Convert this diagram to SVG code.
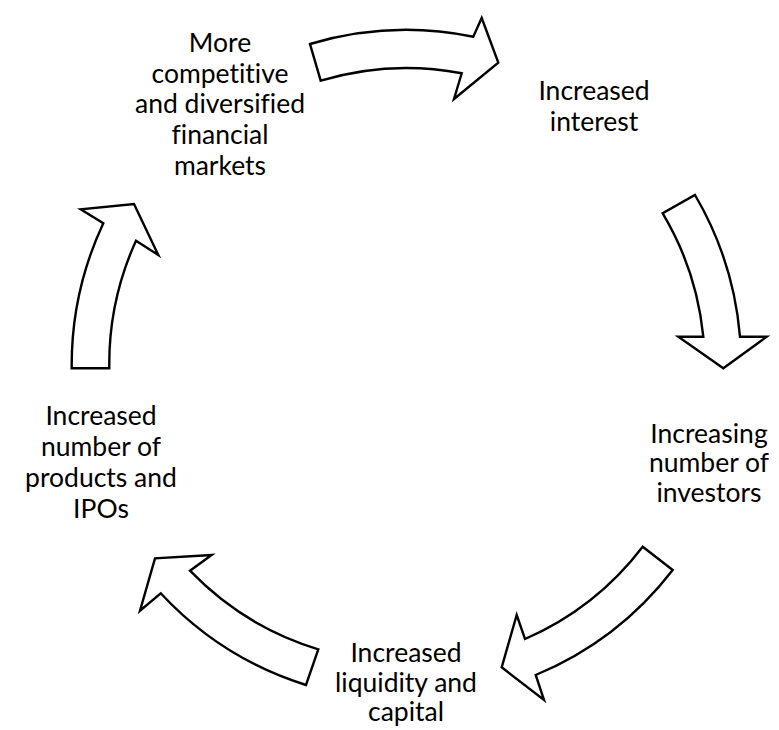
<svg xmlns="http://www.w3.org/2000/svg" width="779" height="730" viewBox="0 0 779 730">
  <style>
    .arrow { fill: #ffffff; stroke: #000000; stroke-width: 2.4; stroke-linejoin: miter; }
    .label { font-family: Lato, "Liberation Sans", sans-serif; font-size: 26.5px; fill: #000000; text-anchor: middle; font-variant-ligatures: none; font-feature-settings: "liga" 0, "dlig" 0; }
  </style>
  <rect width="779" height="730" fill="#ffffff"/>

  <!-- curved block arrows, outer arc r=335, inner arc r=298 -->
  <g id="connectors">
    <path id="arrow-1" class="arrow" d="M310,44 A335,335 0 0 1 473.3,36.7 L481.7,18 L498.3,62.7 L454,99 L461.7,73.3 A298,298 0 0 0 320.7,80.7 Z"/>
    <path id="arrow-2" class="arrow" d="M695,195 A335,335 0 0 1 740,336.7 L766.7,336.7 L723.3,368.3 L678.3,336.7 L703.3,336.7 A298,298 0 0 0 662.7,213.3 Z"/>
    <path id="arrow-3" class="arrow" d="M672.7,570 A335,335 0 0 1 535.7,675 L544,700 L501.7,667.3 L516.7,615 L525,639 A298,298 0 0 0 642.7,546.7 Z"/>
    <path id="arrow-4" class="arrow" d="M306,685 A335,335 0 0 1 160.7,593.3 L140,610.7 L155,558.3 L211.7,555 L190,570.7 A298,298 0 0 0 318.3,649.3 Z"/>
    <path id="arrow-5" class="arrow" d="M71.7,368.3 A335,335 0 0 1 103.3,223.3 L80.7,209.3 L134,204 L158.3,255 L136,240.7 A298,298 0 0 0 109.3,368.3 Z"/>
  </g>

  <g id="node-markets">
    <text class="label" x="220" y="51.7">More</text>
    <text class="label" x="220" y="82.5">competitive</text>
    <text class="label" x="220" y="113.3">and diversified</text>
    <text class="label" x="220" y="144.1">financial</text>
    <text class="label" x="220" y="175">markets</text>
  </g>

  <g id="node-interest">
    <text class="label" x="594" y="100">Increased</text>
    <text class="label" x="594" y="131">interest</text>
  </g>

  <g id="node-investors">
    <text class="label" x="709" y="443">Increasing</text>
    <text class="label" x="709" y="472">number of</text>
    <text class="label" x="709" y="502">investors</text>
  </g>

  <g id="node-liquidity">
    <text class="label" x="406" y="661.5">Increased</text>
    <text class="label" x="406" y="691.5">liquidity and</text>
    <text class="label" x="406" y="721">capital</text>
  </g>

  <g id="node-products">
    <text class="label" x="101" y="425">Increased</text>
    <text class="label" x="101" y="455.5">number of</text>
    <text class="label" x="101" y="486.5">products and</text>
    <text class="label" x="101" y="518">IPOs</text>
  </g>
</svg>
